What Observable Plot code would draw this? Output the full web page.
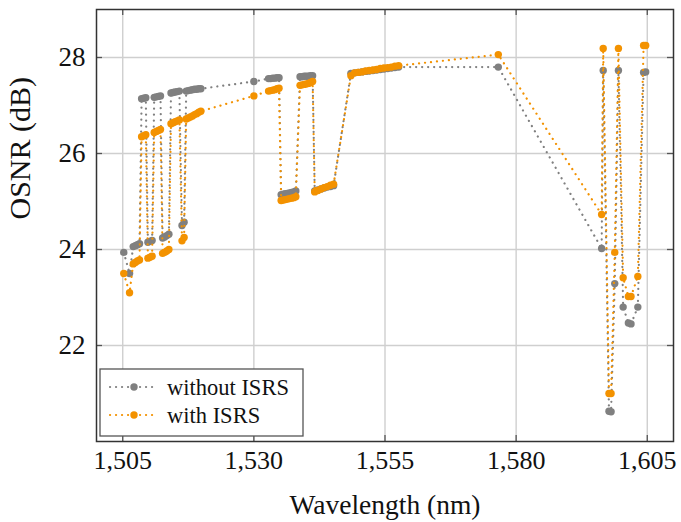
<!DOCTYPE html>
<html>
<head>
<meta charset="utf-8">
<script src="https://cdn.jsdelivr.net/npm/d3@7"></script>
<script src="https://cdn.jsdelivr.net/npm/@observablehq/plot@0.6"></script>
<style>
  html, body { margin: 0; padding: 0; background: white; }
</style>
</head>
<body>
<div id="chart"></div>
<script>
// ---- data ----
const wavelength = [
  1505.2, 1506.3,
  1507.0, 1507.4, 1507.8, 1508.2,
  1508.6, 1509.0, 1509.4,
  1509.8, 1510.2, 1510.6,
  1511.0, 1511.4, 1511.8, 1512.2,
  1512.6, 1513.0, 1513.4, 1513.8,
  1514.2, 1514.6, 1515.0, 1515.4, 1515.8,
  1516.3, 1516.7,
  1517.1, 1517.5, 1517.9, 1518.3, 1518.7, 1519.1, 1519.5, 1519.9,
  1530.0,
  1532.8, 1533.2, 1533.6, 1534.0, 1534.4, 1534.8,
  1535.2, 1535.6, 1536.0, 1536.4, 1536.8, 1537.2, 1537.6, 1538.0,
  1538.8, 1539.2, 1539.6, 1540.0, 1540.4, 1540.8, 1541.2,
  1541.6, 1542.2, 1542.8, 1543.4, 1544.0, 1544.6, 1545.2,
  1548.5, 1549.2, 1549.9, 1550.6, 1551.3, 1552.0, 1552.7, 1553.4, 1554.1, 1554.8, 1555.5, 1556.2, 1556.9, 1557.6,
  1576.6,
  1596.3, 1596.6, 1597.7, 1598.1, 1598.8, 1599.5, 1600.4, 1601.4, 1601.9, 1603.2, 1604.3, 1604.7
];
const osnrWithout = [
  23.94, 23.50,
  24.06, 24.08, 24.10, 24.12,
  27.14, 27.15, 27.16,
  24.15, 24.17, 24.19,
  27.17, 27.18, 27.19, 27.20,
  24.24, 24.26, 24.29, 24.32,
  27.26, 27.27, 27.28, 27.29, 27.30,
  24.50, 24.57,
  27.30, 27.31, 27.32, 27.33, 27.34, 27.34, 27.35, 27.35,
  27.50,
  27.56, 27.56, 27.57, 27.57, 27.58, 27.58,
  25.14, 25.15, 25.16, 25.17, 25.18, 25.19, 25.20, 25.22,
  27.60, 27.60, 27.61, 27.61, 27.61, 27.62, 27.62,
  25.22, 25.24, 25.26, 25.28, 25.30, 25.31, 25.33,
  27.67, 27.68, 27.69, 27.70, 27.71, 27.72, 27.73, 27.74, 27.75, 27.76, 27.77, 27.78, 27.79, 27.80,
  27.80,
  24.02, 27.73, 20.63, 20.62, 23.29, 27.73, 22.80, 22.47, 22.45, 22.80, 27.69, 27.70
];
const osnrWith = [
  23.50, 23.10,
  23.70, 23.73, 23.76, 23.78,
  26.35, 26.37, 26.39,
  23.82, 23.84, 23.86,
  26.44, 26.46, 26.48, 26.50,
  23.92, 23.94, 23.97, 24.00,
  26.62, 26.64, 26.66, 26.68, 26.70,
  24.18, 24.25,
  26.72, 26.74, 26.76, 26.78, 26.81, 26.83, 26.86, 26.88,
  27.20,
  27.30, 27.31, 27.32, 27.33, 27.35, 27.36,
  25.02, 25.03, 25.04, 25.05, 25.06, 25.07, 25.08, 25.10,
  27.42, 27.43, 27.44, 27.45, 27.46, 27.48, 27.50,
  25.20, 25.23, 25.26, 25.29, 25.31, 25.34, 25.36,
  27.62, 27.68, 27.69, 27.70, 27.72, 27.73, 27.74, 27.75, 27.77, 27.78, 27.79, 27.80, 27.82, 27.83,
  28.06,
  24.73, 28.19, 21.00, 21.00, 23.94, 28.19, 23.41, 23.02, 23.02, 23.44, 28.25, 28.25
];
const xTicks = [1505, 1530, 1555, 1580, 1605];
const yTicks = [22, 24, 26, 28];
const seriesNames = ["without ISRS", "with ISRS"];
const seriesColors = ["#808080", "#f39200"];

// ---- layout ----
const W = 681, H = 522, mt = 9, mb = 81, ml = 96, mr = 8;
const fw = W - ml - mr, fh = H - mt - mb;
const dash = "0.1,5.9";
const FONT = "Liberation Serif";
const TEXT = "#111";
const lineStyle = {strokeWidth: 2.2, strokeDasharray: dash, strokeLinecap: "round"};

const rows = wavelength.map((w, i) => ({w, without: osnrWithout[i], with: osnrWith[i]}));

const chart = Plot.plot({
  width: W, height: H,
  marginTop: mt, marginBottom: mb, marginLeft: ml, marginRight: mr,
  style: `font-size: 26px; color: ${TEXT}; background: white;`,
  x: {domain: [1500, 1610], ticks: xTicks, tickFormat: d3.format(","), label: null},
  y: {domain: [20, 29], ticks: yTicks, label: null},
  marks: [
    Plot.gridX(xTicks, {stroke: "#cfcfcf", strokeOpacity: 1, strokeWidth: 1.4}),
    Plot.gridY(yTicks, {stroke: "#cfcfcf", strokeOpacity: 1, strokeWidth: 1.4}),
    // inward tick marks on all four sides
    Plot.tickY(yTicks, {insetRight: fw - 6, stroke: "#555", strokeWidth: 1.3}),
    Plot.tickY(yTicks, {insetLeft: fw - 6, stroke: "#555", strokeWidth: 1.3}),
    Plot.tickX(xTicks, {insetTop: fh - 6, stroke: "#555", strokeWidth: 1.3}),
    Plot.tickX(xTicks, {insetBottom: fh - 6, stroke: "#555", strokeWidth: 1.3}),
    Plot.axisX(xTicks, {tickSize: 0, tickPadding: 9, fontSize: 26, fill: TEXT,
                        tickFormat: d3.format(","), label: null}),
    Plot.axisY(yTicks, {tickSize: 0, tickPadding: 11, fontSize: 27, fill: TEXT, label: null}),
    Plot.line(rows, {x: "w", y: "without", stroke: seriesColors[0], ...lineStyle}),
    Plot.dot(rows, {x: "w", y: "without", r: 3.7, fill: seriesColors[0], stroke: "none"}),
    Plot.line(rows, {x: "w", y: "with", stroke: seriesColors[1], ...lineStyle}),
    Plot.dot(rows, {x: "w", y: "with", r: 3.7, fill: seriesColors[1], stroke: "none"}),
    Plot.frame({stroke: "#333", strokeWidth: 1.5}),
    Plot.text(["Wavelength (nm)"], {frameAnchor: "bottom", dy: 72, fontSize: 27.5, fill: TEXT}),
    Plot.text(["OSNR (dB)"], {frameAnchor: "left", dx: -76, dy: -6, rotate: -90, fontSize: 30, fill: TEXT})
  ]
});

// ---- legend (inside the frame, lower left) ----
const svg = d3.select(chart);
const lg = svg.append("g").attr("text-anchor", "start");
lg.append("rect")
  .attr("x", 100).attr("y", 369).attr("width", 203).attr("height", 67)
  .attr("fill", "white").attr("stroke", "#555").attr("stroke-width", 1.3);
seriesNames.forEach((name, i) => {
  const y = 387 + i * 28;
  lg.append("line")
    .attr("x1", 110).attr("x2", 158).attr("y1", y).attr("y2", y)
    .attr("stroke", seriesColors[i]).attr("stroke-width", 2.2)
    .attr("stroke-dasharray", dash).attr("stroke-linecap", "round");
  lg.append("circle").attr("cx", 134).attr("cy", y).attr("r", 3.7).attr("fill", seriesColors[i]);
  lg.append("text").attr("x", 167).attr("y", y).attr("dy", "0.35em")
    .attr("text-anchor", "start")
    .attr("font-size", 22.5).attr("fill", TEXT).text(name);
});

// serif face on every text element (inline style with family and size)
svg.selectAll("text").each(function () {
  let n = this, size = null;
  while (n && n.getAttribute && size == null) {
    size = n.getAttribute("font-size");
    n = n.parentNode;
  }
  const px = size == null ? 26 : parseFloat(size);
  this.setAttribute("style", `font-family: "${FONT}" !important; font-size: ${px}px`);
});

document.getElementById("chart").appendChild(chart);
</script>
</body>
</html>
